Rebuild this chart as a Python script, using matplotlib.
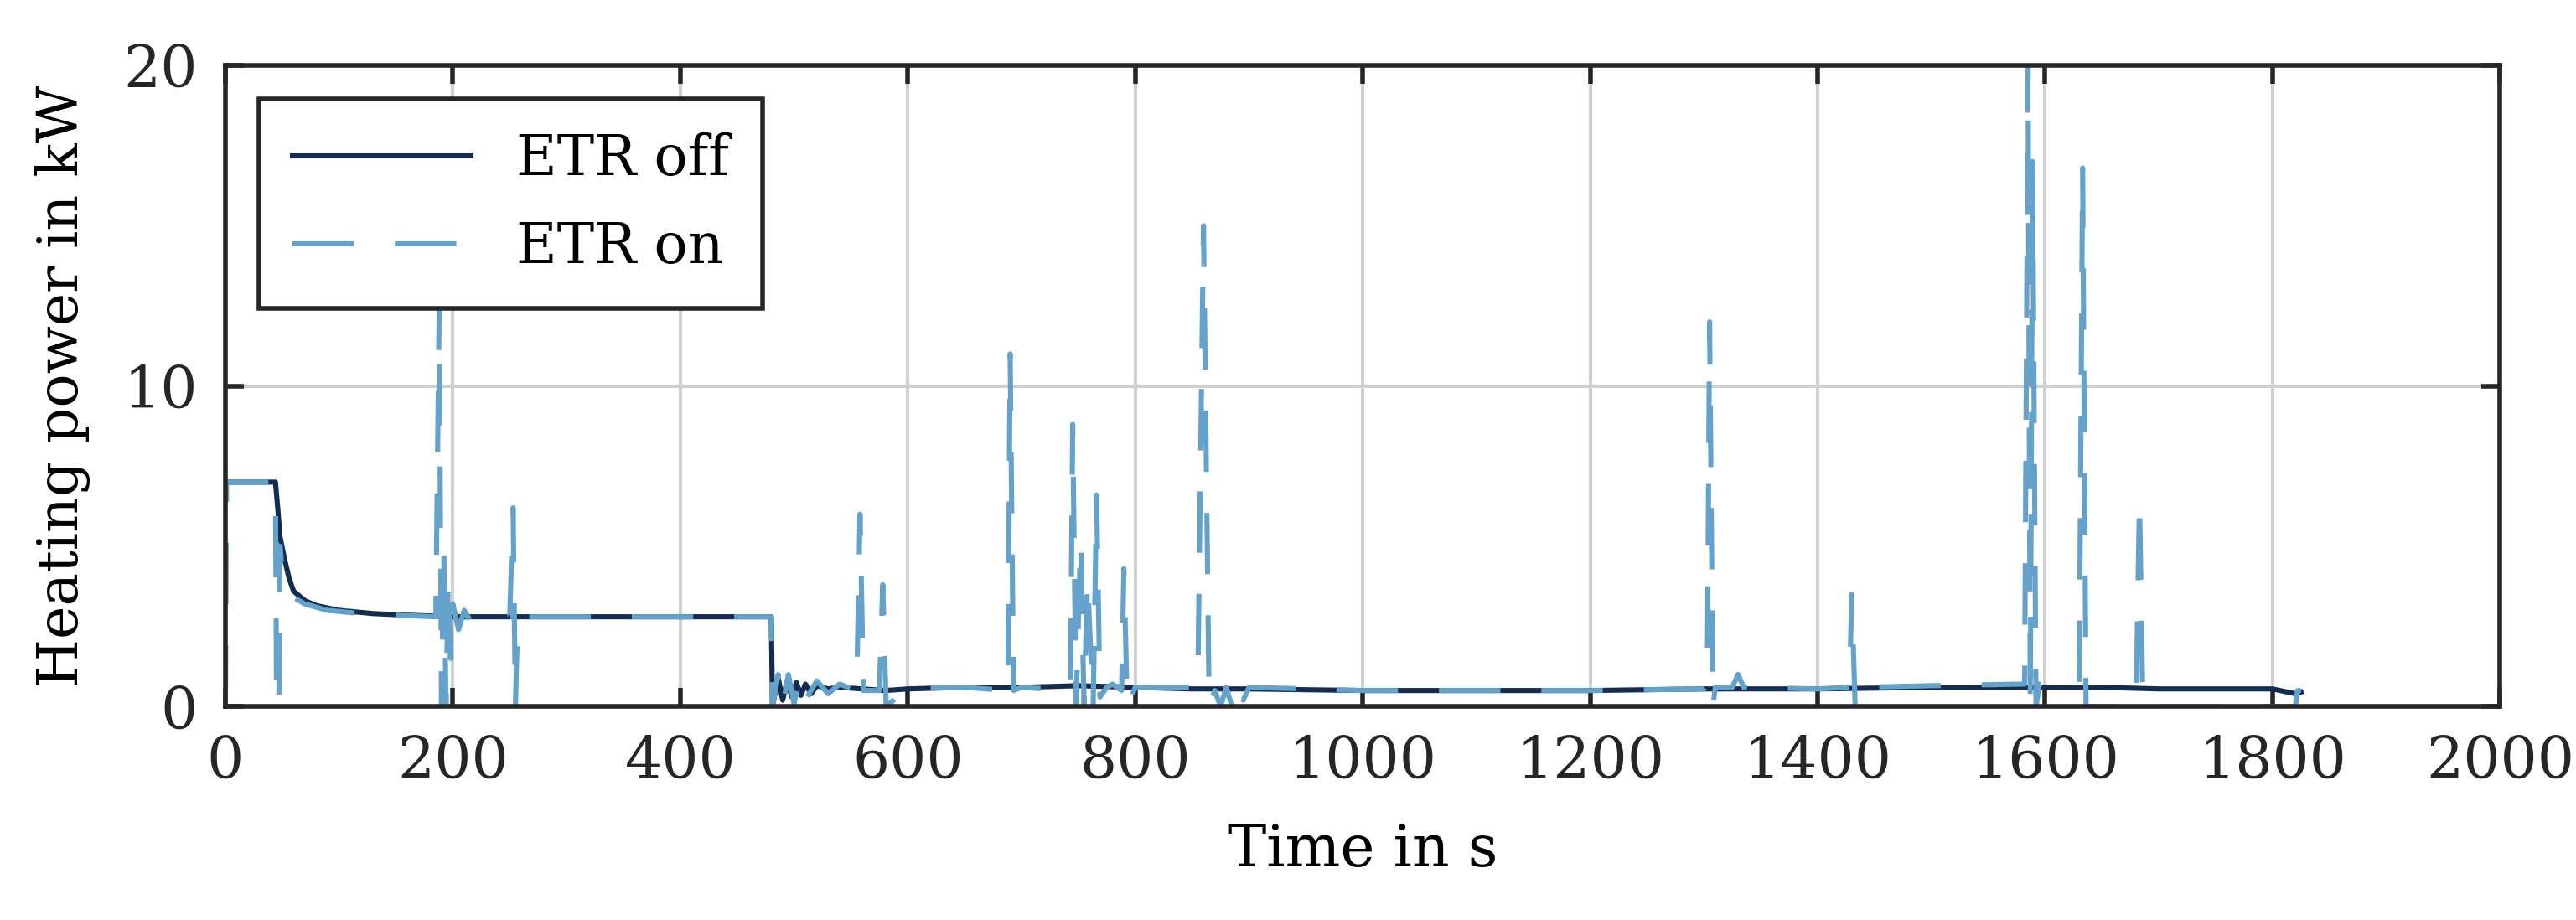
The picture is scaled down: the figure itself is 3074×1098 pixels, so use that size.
"""Heating power with and without ETR."""
import matplotlib

matplotlib.use("Agg")
import matplotlib.pyplot as plt

# ETR off (dark line): breakpoints
t_off = [0, 44, 46, 48, 52, 56, 60, 70, 80, 100, 130, 160, 200, 260, 300, 480, 481,
         486, 490, 494, 498, 502, 506, 510, 515, 520, 530, 540, 560, 580, 600, 650,
         700, 750, 800, 850, 900, 1000, 1100, 1200, 1300, 1400, 1500, 1550, 1600,
         1650, 1700, 1750, 1800, 1820, 1825]
p_off = [7.0, 7.0, 6.2, 5.3, 4.6, 4.0, 3.6, 3.3, 3.15, 3.0, 2.9, 2.85, 2.8, 2.8, 2.8,
         2.8, 0.0, 0.9, 0.2, 0.8, 0.3, 0.75, 0.35, 0.7, 0.4, 0.65, 0.55, 0.6, 0.55,
         0.5, 0.55, 0.6, 0.6, 0.65, 0.6, 0.55, 0.55, 0.5, 0.5, 0.5, 0.55, 0.55,
         0.6, 0.6, 0.6, 0.6, 0.55, 0.55, 0.55, 0.4, 0.45]

# ETR on (dashed light blue line)
t_on = [0, 1, 44, 45, 47, 48, 50, 55, 60, 70, 90, 120, 150, 185, 188, 190, 192, 194,
        196, 198, 200, 205, 210, 215, 220, 250, 253, 255, 257, 260, 300, 480, 481,
        486, 490, 495, 500, 505, 510, 520, 530, 540, 555, 558, 561, 575, 578, 581,
        600, 650, 688, 690, 693, 700, 743, 745, 748, 752, 755, 758, 763, 766, 769,
        775, 780, 788, 790, 793, 800, 855, 860, 865, 870, 875, 880, 885, 890, 895,
        900, 950, 1000, 1100, 1200, 1300, 1303, 1305, 1308, 1310, 1325, 1330, 1335,
        1400, 1428, 1430, 1433, 1436, 1500, 1580, 1582, 1585, 1587, 1589, 1592,
        1595, 1630, 1633, 1636, 1638, 1640, 1680, 1683, 1686, 1690, 1820, 1822, 1825]
p_on = [0.0, 7.0, 7.0, 0.0, 0.0, 5.0, 4.2, 3.6, 3.4, 3.2, 3.0, 2.9, 2.85, 2.8,
        12.5, 0.0, 5.0, 0.0, 4.0, 1.5, 3.2, 2.4, 3.0, 2.7, 2.8, 2.8, 6.2, 0.0, 2.8,
        2.8, 2.8, 2.8, 0.0, 1.0, 0.0, 1.0, 0.1, 0.9, 0.2, 0.8, 0.4, 0.7, 0.5, 6.0,
        0.5, 0.5, 3.8, 0.0, 0.6, 0.6, 0.5, 11.0, 0.5, 0.6, 0.5, 8.8, 0.0, 5.2, 0.0,
        4.0, 0.0, 6.6, 0.3, 0.6, 0.7, 0.5, 4.3, 0.0, 0.6, 0.6, 15.0, 0.0, 0.5, 0.0,
        0.6, 0.0, 0.7, 0.2, 0.6, 0.55, 0.5, 0.5, 0.5, 0.55, 0.7, 12.0, 0.0, 0.6,
        0.6, 1.0, 0.6, 0.55, 0.6, 3.5, 0.0, 0.6, 0.65, 0.7, 0.7, 20.0, 0.0, 17.0,
        0.0, 0.7, 0.7, 16.8, 0.0, 0.0, 0.0, 0.0, 6.5, 0.0, 0.0, 0.0, 0.5, 0.5]

plt.rcParams["font.family"] = ["DejaVu Serif"]

fig = plt.figure(figsize=(15.37, 5.49), dpi=200)
ax = fig.add_axes([0.0875, 0.232, 0.883, 0.697])

ax.plot(t_off, p_off, color="#142c4f", lw=2.2, label="ETR off")
ax.plot(t_on, p_on, color="#64a2cb", lw=2.2, dashes=(12, 8), label="ETR on")

ax.set_xlim(0, 2000)
ax.set_ylim(0, 20)
ax.set_xticks(range(0, 2001, 200))
ax.set_yticks([0, 10, 20])
ax.grid(True, color="#d0d0d0", lw=1.5)
ax.set_axisbelow(True)
ax.tick_params(labelsize=25, direction="in", length=8, width=2, top=True, right=True,
               colors="#262626")
ax.tick_params(axis="x", pad=12)
ax.tick_params(axis="y", pad=12)
for s in ax.spines.values():
    s.set_linewidth(2)
    s.set_color("#262626")
ax.set_xlabel("Time in s", fontsize=25, labelpad=14)
ax.set_ylabel("Heating power in kW", fontsize=24, labelpad=14)

leg = ax.legend(loc="upper left", fontsize=24, fancybox=False, framealpha=1,
                edgecolor="#262626", handlelength=3.2, borderaxespad=0.6,
                labelspacing=0.6, borderpad=0.6)
leg.get_frame().set_linewidth(2)

fig.savefig("out.png", dpi=200)
